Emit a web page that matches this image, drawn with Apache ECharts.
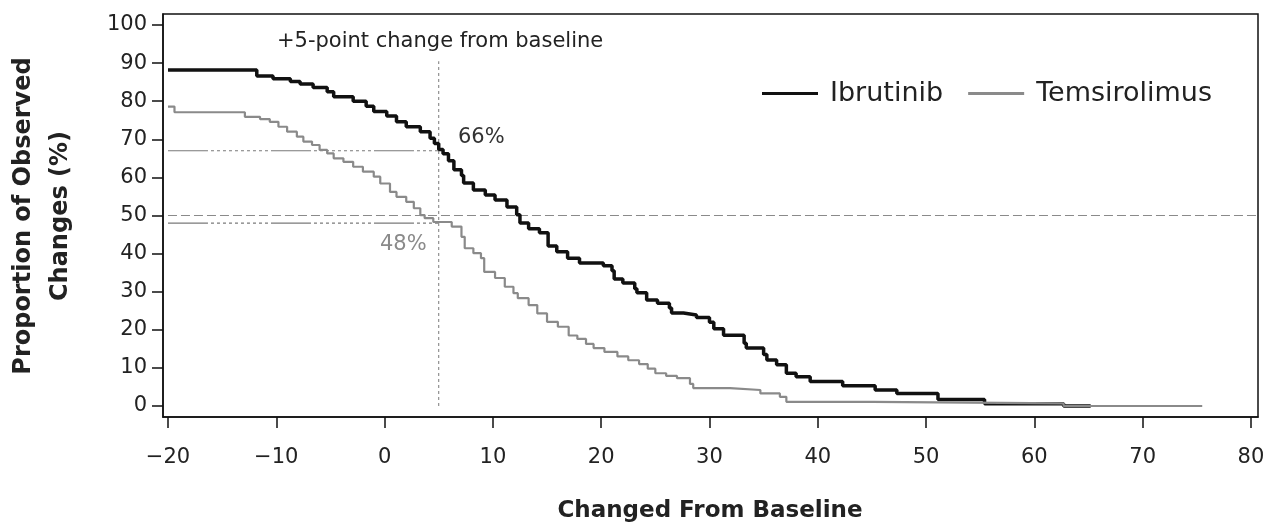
<!DOCTYPE html>
<html>
<head>
<meta charset="utf-8">
<script src="https://cdn.jsdelivr.net/npm/echarts@6/dist/echarts.min.js"></script>
<style>
html,body{margin:0;padding:0;background:#fff;}
#chart{width:1269px;height:524px;}
</style>
</head>
<body>
<div id="chart"></div>
<script>
// ---- data ----
const xTicks = [-20, -10, 0, 10, 20, 30, 40, 50, 60, 70, 80];
const yTicks = [0, 10, 20, 30, 40, 50, 60, 70, 80, 90, 100];
const seriesNames = ['Ibrutinib', 'Temsirolimus'];

// [change from baseline, proportion (%)] ; value holds until the next point
const ibrutinib = [
  [-20, 88.2], [-11.8, 86.6], [-10.3, 85.9], [-8.7, 85.2], [-7.8, 84.5], [-6.6, 83.6],
  [-5.3, 82.5], [-4.7, 81.2], [-2.9, 80.0], [-1.7, 78.7], [-1.0, 77.3], [0.2, 76.1],
  [1.1, 74.6], [2.0, 73.3], [3.3, 72.0], [4.2, 70.3], [4.6, 68.9], [5.0, 67.3],
  [5.4, 66.2], [5.9, 64.4], [6.4, 62.0], [7.1, 60.5], [7.3, 58.5], [8.2, 56.7],
  [9.3, 55.4], [10.2, 54.1], [11.3, 52.2], [12.2, 50.2], [12.5, 48.0], [13.3, 46.5],
  [14.3, 45.5], [15.1, 42.0], [15.9, 40.5], [16.9, 38.8], [18.0, 37.5], [20.2, 36.8],
  [21.0, 35.5], [21.2, 33.3], [22.0, 32.3], [23.1, 30.8], [23.3, 29.7], [24.2, 27.8],
  [25.2, 27.0], [26.3, 25.7], [26.5, 24.4], [27.6, 23.9], [28.8, 23.2], [30.0, 22.0],
  [30.4, 20.3], [31.3, 18.6], [33.2, 16.5], [33.4, 15.2], [35.0, 13.5], [35.3, 12.1],
  [36.2, 10.8], [37.1, 8.6], [38.0, 7.7], [39.3, 6.4], [42.3, 5.3], [45.3, 4.2],
  [47.3, 3.3], [51.1, 1.7], [55.4, 0.6], [62.7, 0], [65.2, 0]
];
const temsirolimus = [
  [-20, 78.6], [-19.4, 77.1], [-12.9, 75.9], [-11.5, 75.3], [-10.6, 74.6], [-9.8, 73.3],
  [-9.0, 72.0], [-8.1, 70.7], [-7.5, 69.4], [-6.7, 68.5], [-6.0, 67.2], [-5.3, 66.3],
  [-4.7, 65.0], [-3.8, 64.1], [-2.9, 62.8], [-2.0, 61.5], [-1.0, 60.2], [-0.4, 58.4],
  [0.5, 56.2], [1.1, 54.9], [2.0, 53.6], [2.7, 51.9], [3.3, 50.1], [3.7, 49.3],
  [4.5, 48.3], [6.2, 47.1], [7.1, 44.4], [7.4, 41.4], [8.2, 40.1], [8.9, 38.8],
  [9.2, 35.2], [10.2, 33.6], [11.1, 31.3], [11.9, 29.6], [12.3, 28.3], [13.3, 26.5],
  [14.1, 24.3], [15.0, 22.1], [16.0, 20.8], [17.0, 18.5], [17.8, 17.6], [18.6, 16.3],
  [19.3, 15.2], [20.3, 14.2], [21.5, 13.0], [22.5, 12.0], [23.5, 11.0], [24.3, 9.8],
  [25.0, 8.6], [26.0, 7.9], [27.0, 7.3], [28.2, 5.8], [28.5, 4.7], [31.9, 4.2],
  [34.7, 3.3], [36.5, 2.4], [37.1, 1.1], [45.1, 0.7], [62.7, 0], [75.5, 0]
];

// reference lines
const refBaselineX = 5;            // +5-point change
const refTop = 90.5;               // top of vertical reference line
const refHalf = 50;                // 50% dashed line
const ibrutinibAt5 = 67;           // horizontal read-off line (66%)
const temsirolimusAt5 = 48;        // horizontal read-off line (48%)
const xMin = -20.46, xMax = 80.65, yMin = -2.89, yMax = 102.89;

const FONT = 'DejaVu Sans';
const chart = echarts.init(document.getElementById('chart'), null, {renderer: 'canvas'});

const mixedDash = [40, 3, 3, 3, 3, 3, 3, 3, 3, 3, 3, 3, 3, 3, 3, 3, 3, 3, 3, 3, 3, 3];

chart.setOption({
  animation: false,
  backgroundColor: '#fff',
  grid: {
    left: 163, right: 11, top: 14, bottom: 107,
    show: true, borderColor: '#111', borderWidth: 1.5, backgroundColor: 'transparent'
  },
  legend: {
    data: seriesNames,
    icon: 'rect',
    left: 762, top: 80, padding: 0,
    itemWidth: 56, itemHeight: 3, itemGap: 25,
    textStyle: {fontFamily: FONT, fontSize: 27, color: '#222', padding: [0, 0, 0, 7]}
  },
  xAxis: {
    type: 'value', min: xMin, max: xMax,
    axisLine: {show: true, onZero: false, lineStyle: {color: '#111', width: 1.5}},
    axisTick: {show: true, length: 11, lineStyle: {color: '#111', width: 1.5}, customValues: xTicks},
    axisLabel: {
      customValues: xTicks, margin: 30,
      fontFamily: FONT, fontSize: 21, color: '#222',
      formatter: v => String(v).replace('-', '\u2212')
    },
    splitLine: {show: false}
  },
  yAxis: {
    type: 'value', min: yMin, max: yMax,
    axisLine: {show: true, onZero: false, lineStyle: {color: '#111', width: 1.5}},
    axisTick: {show: true, length: 11, lineStyle: {color: '#111', width: 1.5}, customValues: yTicks},
    axisLabel: {customValues: yTicks, margin: 16, fontFamily: FONT, fontSize: 21, color: '#222'},
    splitLine: {show: false}
  },
  graphic: [
    {type: 'text', left: 277, top: 31, style: {text: '+5-point change from baseline', font: '21px "DejaVu Sans"', fill: '#222'}},
    {type: 'text', left: 458, top: 127, style: {text: '66%', font: '21px "DejaVu Sans"', fill: '#333'}},
    {type: 'text', left: 380, top: 234, style: {text: '48%', font: '21px "DejaVu Sans"', fill: '#8a8a8a'}},
    {type: 'text', x: 42, y: 216, rotation: Math.PI / 2,
     style: {text: 'Proportion of Observed\nChanges (%)', font: 'bold 24px "DejaVu Sans"', fill: '#222',
             align: 'center', verticalAlign: 'middle', lineHeight: 37}},
    {type: 'text', x: 710, y: 511,
     style: {text: 'Changed From Baseline', font: 'bold 23px "DejaVu Sans"', fill: '#222',
             align: 'center', verticalAlign: 'middle'}}
  ],
  series: [
    {name: 'ref50', type: 'line', symbol: 'none', silent: true,
     data: [[-20, refHalf], [xMax, refHalf]],
     lineStyle: {color: '#8a8a8a', width: 1, type: [9, 4]}},
    {name: 'refIbr', type: 'line', symbol: 'none', silent: true,
     data: [[-20, ibrutinibAt5], [refBaselineX, ibrutinibAt5]],
     lineStyle: {color: '#7a7a7a', width: 1.2, type: mixedDash}},
    {name: 'refTem', type: 'line', symbol: 'none', silent: true,
     data: [[-20, temsirolimusAt5], [refBaselineX, temsirolimusAt5]],
     lineStyle: {color: '#7a7a7a', width: 1.2, type: mixedDash}},
    {name: 'refV', type: 'line', symbol: 'none', silent: true,
     data: [[refBaselineX, 0], [refBaselineX, refTop]],
     lineStyle: {color: '#7a7a7a', width: 1, type: [3, 3]}},
    {name: 'Ibrutinib', type: 'line', step: 'end', symbol: 'none',
     data: ibrutinib, lineStyle: {color: '#111', width: 3.5}, itemStyle: {color: '#111'}},
    {name: 'Temsirolimus', type: 'line', step: 'end', symbol: 'none',
     data: temsirolimus, lineStyle: {color: '#8a8a8a', width: 2.2}, itemStyle: {color: '#8a8a8a'}}
  ]
});
</script>
</body>
</html>
